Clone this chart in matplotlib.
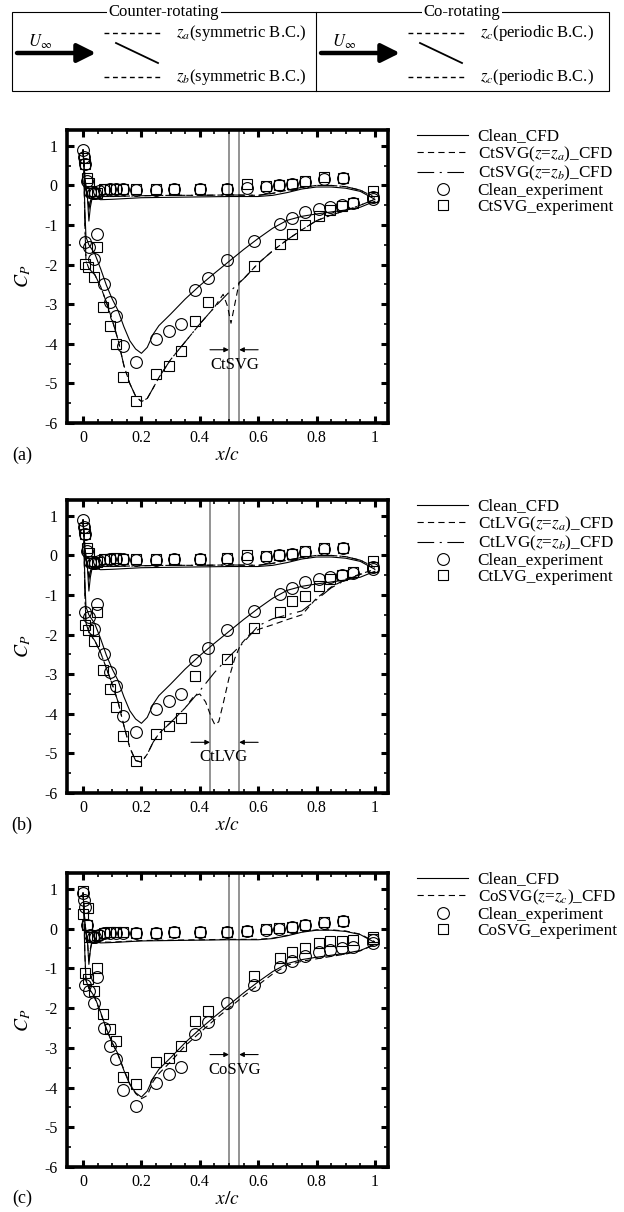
import matplotlib
matplotlib.use('Agg')
import matplotlib.pyplot as plt
from matplotlib.patches import Rectangle, FancyArrowPatch

plt.rcParams['font.family'] = ['Liberation Serif', 'DejaVu Serif']
plt.rcParams['mathtext.fontset'] = 'stix'
plt.rcParams['axes.unicode_minus'] = False
plt.rcParams['lines.scale_dashes'] = False

W, H = 624, 1212

# ---- axis ticks ----
XTICKS = [0, 0.2, 0.4, 0.6, 0.8, 1.0]
XTICK_LABELS = ['0', '0.2', '0.4', '0.6', '0.8', '1']
YTICKS = [1, 0, -1, -2, -3, -4, -5, -6]

# ---- CFD, clean airfoil ----
CLEAN_SS_X = [0, 0.003, 0.006, 0.01, 0.02, 0.04, 0.06, 0.08, 0.1, 0.12, 0.14, 0.16, 0.18, 0.2,
              0.22, 0.24, 0.26, 0.3, 0.35, 0.4, 0.45, 0.5, 0.55, 0.6, 0.65, 0.7, 0.75, 0.8,
              0.85, 0.9, 0.95, 1.0]
CLEAN_SS_Y = [0.9, 0.5, -0.6, -1.3, -1.5, -1.72, -2.1, -2.52, -2.87, -3.16, -3.57, -3.92, -4.13, -4.24,
              -4.09, -3.76, -3.54, -3.25, -2.87, -2.53, -2.22, -1.92, -1.62, -1.34, -1.08, -0.88,
              -0.78, -0.72, -0.67, -0.62, -0.55, -0.4]
CLEAN_PS_X = [0, 0.005, 0.01, 0.015, 0.02, 0.025, 0.03, 0.04, 0.06, 0.1, 0.15, 0.2, 0.3, 0.4,
              0.5, 0.6, 0.65, 0.7, 0.75, 0.8, 0.85, 0.9, 0.95, 1.0]
CLEAN_PS_Y = [0.9, 0.3, -0.1, -0.3, -0.9, -0.55, -0.36, -0.32, -0.36, -0.35, -0.33, -0.31, -0.3, -0.29,
              -0.28, -0.28, -0.25, -0.18, -0.09, -0.04, -0.04, -0.07, -0.15, -0.35]

# ---- CFD, CtSVG ----
CTSVG_B_SS_X = [0, 0.003, 0.006, 0.01, 0.02, 0.04, 0.06, 0.08, 0.1, 0.12, 0.14, 0.16, 0.18, 0.2,
                0.22, 0.24, 0.26, 0.3, 0.35, 0.4, 0.45, 0.5, 0.55, 0.6, 0.65, 0.7, 0.75, 0.8,
                0.85, 0.9, 0.95, 1.0]
CTSVG_B_SS_Y = [0.9, 0.4, -0.9, -1.9, -2.1, -2.25, -2.55, -2.95, -3.4, -3.9, -4.55, -5.0, -5.32, -5.46,
                -5.38, -5.12, -4.85, -4.4, -3.95, -3.5, -3.08, -2.7, -2.36, -1.97, -1.65, -1.37,
                -1.12, -0.89, -0.75, -0.63, -0.5, -0.35]
CTSVG_A_SS_X = [0, 0.003, 0.006, 0.01, 0.02, 0.04, 0.06, 0.08, 0.1, 0.12, 0.14, 0.16, 0.18, 0.2,
                0.22, 0.24, 0.26, 0.3, 0.35, 0.4, 0.45, 0.48, 0.495, 0.507, 0.52, 0.535, 0.55, 0.6,
                0.65, 0.7, 0.75, 0.8, 0.85, 0.9, 0.95, 1.0]
CTSVG_A_SS_Y = [0.9, 0.4, -0.9, -1.9, -2.1, -2.25, -2.55, -2.95, -3.4, -3.9, -4.55, -5.0, -5.32, -5.46,
                -5.38, -5.12, -4.85, -4.4, -3.95, -3.5, -3.08, -2.75, -3.05, -3.48, -3.0, -2.45, -2.36,
                -1.97, -1.65, -1.37, -1.12, -0.89, -0.75, -0.63, -0.5, -0.35]
CTSVG_PS_X = [0, 0.005, 0.01, 0.015, 0.02, 0.025, 0.03, 0.04, 0.06, 0.1, 0.15, 0.2, 0.3, 0.4,
              0.5, 0.6, 0.65, 0.7, 0.75, 0.8, 0.85, 0.9, 0.95, 1.0]
CTSVG_PS_Y = [0.9, 0.35, -0.05, -0.2, -0.6, -0.4, -0.3, -0.27, -0.28, -0.28, -0.27, -0.26, -0.25, -0.25,
              -0.24, -0.25, -0.2, -0.12, -0.05, 0.0, 0.0, -0.03, -0.12, -0.3]

# ---- CFD, CtLVG ----
CTLVG_B_SS_X = [0, 0.003, 0.006, 0.01, 0.02, 0.04, 0.06, 0.08, 0.1, 0.12, 0.14, 0.16, 0.18, 0.2,
                0.22, 0.24, 0.26, 0.3, 0.35, 0.4, 0.45, 0.5, 0.55, 0.6, 0.65, 0.7, 0.75, 0.8,
                0.85, 0.9, 0.95, 1.0]
CTLVG_B_SS_Y = [0.9, 0.4, -0.9, -1.7, -1.95, -2.15, -2.45, -2.85, -3.25, -3.7, -4.3, -4.85, -5.18, -5.22,
                -5.02, -4.72, -4.5, -4.22, -3.85, -3.42, -2.96, -2.56, -2.2, -1.78, -1.6, -1.5,
                -1.4, -1.12, -0.82, -0.62, -0.48, -0.35]
CTLVG_A_SS_X = [0, 0.003, 0.006, 0.01, 0.02, 0.04, 0.06, 0.08, 0.1, 0.12, 0.14, 0.16, 0.18, 0.2,
                0.22, 0.24, 0.26, 0.3, 0.35, 0.38, 0.4, 0.42, 0.44, 0.452, 0.465, 0.48, 0.5, 0.52,
                0.54, 0.57, 0.6, 0.65, 0.7, 0.75, 0.8, 0.85, 0.9, 0.95, 1.0]
CTLVG_A_SS_Y = [0.9, 0.4, -0.9, -1.7, -1.95, -2.15, -2.45, -2.85, -3.25, -3.7, -4.3, -4.85, -5.18, -5.22,
                -5.02, -4.72, -4.5, -4.22, -3.85, -3.55, -3.5, -3.7, -4.1, -4.28, -4.2, -3.75, -3.1,
                -2.6, -2.25, -2.0, -1.87, -1.75, -1.62, -1.5, -1.08, -0.8, -0.6, -0.47, -0.35]

# ---- CFD, CoSVG ----
COSVG_SS_X = [0, 0.003, 0.006, 0.01, 0.02, 0.04, 0.06, 0.08, 0.1, 0.12, 0.14, 0.16, 0.18, 0.2,
              0.22, 0.24, 0.26, 0.3, 0.35, 0.4, 0.45, 0.5, 0.55, 0.6, 0.65, 0.7, 0.75, 0.8,
              0.85, 0.9, 0.95, 1.0]
COSVG_SS_Y = [0.9, 0.5, -0.6, -1.3, -1.5, -1.75, -2.12, -2.53, -2.88, -3.18, -3.55, -3.9, -4.15, -4.28,
              -4.2, -3.85, -3.65, -3.35, -2.95, -2.62, -2.3, -2.0, -1.7, -1.42, -1.14, -0.92,
              -0.82, -0.76, -0.7, -0.64, -0.56, -0.4]
COSVG_PS_X = [0, 0.005, 0.01, 0.015, 0.02, 0.025, 0.03, 0.04, 0.06, 0.1, 0.15, 0.2, 0.3, 0.4,
              0.5, 0.6, 0.65, 0.7, 0.75, 0.8, 0.85, 0.9, 0.95, 1.0]
COSVG_PS_Y = [0.9, 0.3, -0.1, -0.28, -0.85, -0.5, -0.34, -0.3, -0.34, -0.34, -0.32, -0.3, -0.29, -0.28,
              -0.27, -0.27, -0.24, -0.17, -0.08, -0.03, -0.03, -0.06, -0.14, -0.33]

# ---- experiment, clean airfoil (same taps in every panel) ----
EXP_CLEAN_SS_X = [0.0, 0.003, 0.008, 0.008, 0.02, 0.037, 0.048, 0.071, 0.091, 0.114, 0.137, 0.18, 0.251,
                  0.294, 0.337, 0.383, 0.427, 0.494, 0.585, 0.674, 0.717, 0.762, 0.808, 0.846, 0.887,
                  0.925, 0.993]
EXP_CLEAN_SS_Y = [0.9, 0.72, 0.55, -1.43, -1.56, -1.86, -1.22, -2.49, -2.95, -3.29, -4.05, -4.47, -3.88,
                  -3.67, -3.49, -2.64, -2.35, -1.88, -1.41, -0.97, -0.82, -0.68, -0.59, -0.55, -0.5,
                  -0.45, -0.35]
EXP_CLEAN_PS_X = [0.015, 0.025, 0.033, 0.042, 0.055, 0.071, 0.091, 0.114, 0.137, 0.18, 0.251, 0.31, 0.4,
                  0.494, 0.562, 0.627, 0.672, 0.717, 0.762, 0.825, 0.89, 0.993]
EXP_CLEAN_PS_Y = [0.1, -0.17, -0.2, -0.2, -0.15, -0.11, -0.1, -0.1, -0.1, -0.11, -0.11, -0.09, -0.09,
                  -0.09, -0.06, -0.03, 0.0, 0.03, 0.09, 0.15, 0.18, -0.28]

# ---- experiment, vortex generators ----
EXP_CTSVG_SS_X = [0.002, 0.006, 0.008, 0.016, 0.037, 0.048, 0.069, 0.091, 0.114, 0.137, 0.18, 0.251,
                  0.294, 0.337, 0.383, 0.427, 0.585, 0.674, 0.717, 0.762, 0.808, 0.846, 0.887, 0.925,
                  0.993]
EXP_CTSVG_SS_Y = [0.7, 0.55, -1.98, -2.07, -2.32, -1.56, -3.08, -3.54, -4.0, -4.85, -5.44, -4.77, -4.56,
                  -4.19, -3.43, -2.95, -2.03, -1.48, -1.22, -1.01, -0.76, -0.62, -0.52, -0.45, -0.3]
EXP_CTSVG_PS_X = [0.015, 0.02, 0.028, 0.037, 0.048, 0.071, 0.091, 0.114, 0.137, 0.18, 0.251, 0.31, 0.4,
                  0.494, 0.562, 0.627, 0.672, 0.717, 0.762, 0.825, 0.89, 0.993]
EXP_CTSVG_PS_Y = [0.18, 0.05, -0.15, -0.2, -0.18, -0.1, -0.08, -0.08, -0.08, -0.1, -0.1, -0.08, -0.08,
                  -0.08, 0.03, -0.02, 0.0, 0.04, 0.1, 0.21, 0.2, -0.13]

EXP_CTLVG_SS_X = [0.002, 0.006, 0.008, 0.016, 0.037, 0.048, 0.069, 0.091, 0.114, 0.137, 0.18, 0.251,
                  0.294, 0.337, 0.383, 0.494, 0.585, 0.674, 0.717, 0.762, 0.808, 0.846, 0.887, 0.925,
                  0.993]
EXP_CTLVG_SS_Y = [0.7, 0.55, -1.75, -1.88, -2.16, -1.42, -2.9, -3.38, -3.83, -4.55, -5.19, -4.5, -4.3,
                  -4.1, -3.04, -2.62, -1.84, -1.42, -1.14, -1.02, -0.78, -0.6, -0.5, -0.42, -0.3]
EXP_CTLVG_PS_X = [0.015, 0.02, 0.028, 0.037, 0.048, 0.071, 0.091, 0.114, 0.137, 0.18, 0.251, 0.31, 0.4,
                  0.494, 0.562, 0.627, 0.672, 0.717, 0.762, 0.825, 0.89, 0.993]
EXP_CTLVG_PS_Y = [0.2, 0.06, -0.15, -0.2, -0.17, -0.09, -0.08, -0.07, -0.08, -0.1, -0.09, -0.08, -0.08,
                  -0.07, 0.02, -0.02, 0.01, 0.04, 0.1, 0.2, 0.2, -0.15]

EXP_COSVG_SS_X = [0.0, 0.0, 0.016, 0.008, 0.016, 0.037, 0.048, 0.069, 0.091, 0.114, 0.137, 0.18, 0.251,
                  0.294, 0.337, 0.383, 0.427, 0.585, 0.674, 0.717, 0.762, 0.808, 0.846, 0.887, 0.925,
                  0.993]
EXP_COSVG_SS_Y = [0.94, 0.36, 0.52, -1.12, -1.27, -1.56, -0.98, -2.14, -2.52, -2.83, -3.73, -3.92, -3.35,
                  -3.25, -2.96, -2.33, -2.08, -1.18, -0.73, -0.58, -0.48, -0.35, -0.32, -0.3, -0.28,
                  -0.22]
EXP_COSVG_PS_X = [0.015, 0.022, 0.028, 0.037, 0.048, 0.071, 0.091, 0.114, 0.137, 0.18, 0.251, 0.31, 0.4,
                  0.494, 0.562, 0.627, 0.672, 0.717, 0.762, 0.825, 0.89, 0.993]
EXP_COSVG_PS_Y = [0.1, -0.2, -0.22, -0.2, -0.17, -0.1, -0.09, -0.09, -0.09, -0.1, -0.1, -0.08, -0.08,
                  -0.08, -0.05, -0.02, 0.01, 0.04, 0.1, 0.17, 0.19, -0.25]

# ---- vortex generator positions (x/c) ----
VG_CTSVG = [0.5, 0.535]
VG_CTLVG = [0.435, 0.535]
VG_COSVG = [0.5, 0.535]

SOLID = '-'
DASHED = (0, (4.5, 3))
DASHDOT = (0, (12, 4, 1.5, 4))


def axes_rect(left, top, right, bottom):
    return [left / W, 1 - bottom / H, (right - left) / W, (bottom - top) / H]


def style_axes(ax):
    ax.set_xlim(-0.055, 1.045)
    ax.set_ylim(-6, 1.4)
    ax.set_xticks(XTICKS)
    ax.set_xticklabels(XTICK_LABELS)
    ax.set_yticks(YTICKS)
    ax.set_xticks([i * 0.05 for i in range(21)], minor=True)
    ax.set_yticks([-5.5 + i for i in range(7)], minor=True)
    ax.tick_params(which='both', direction='in', top=True, right=True, labelsize=11.5)
    ax.tick_params(which='major', length=5, width=2.2)
    ax.tick_params(which='minor', length=3, width=1.2)
    ax.tick_params(axis='x', pad=5)
    ax.tick_params(axis='y', pad=7)
    for s in ax.spines.values():
        s.set_linewidth(2.6)
    ax.set_ylabel('$C_P$', fontsize=14)
    ax.yaxis.set_label_coords(-0.105, 0.5)
    ax.set_xlabel('$x/c$', fontsize=14)
    ax.xaxis.label.set_va('center')
    ax.xaxis.set_label_coords(0.5, -0.11)


def draw_vg(ax, xs, y, name, name_x, arrow_len=0.065):
    for x in xs:
        ax.axvline(x, color='#8a8a8a', lw=1.3, zorder=1)
    props = dict(arrowstyle='-|>', color='k', lw=0.8, mutation_scale=7, shrinkA=0, shrinkB=0)
    ax.annotate('', xy=(xs[0], y), xytext=(xs[0] - arrow_len, y), arrowprops=props)
    ax.annotate('', xy=(xs[1], y), xytext=(xs[1] + arrow_len, y), arrowprops=props)
    ax.text(name_x, y - 0.38, name, ha='center', va='center', fontsize=12)


def draw_exp(ax, ss_x, ss_y, ps_x, ps_y, marker, ms, label):
    kw = dict(ls='none', marker=marker, ms=ms, mfc='none', mec='k', mew=0.8, zorder=4)
    ax.plot(ss_x, ss_y, label=label, **kw)
    ax.plot(ps_x, ps_y, **kw)


def draw_cfd(ax, ss_x, ss_y, ps_x, ps_y, ls, label):
    ax.plot(ss_x, ss_y, color='k', lw=0.8, ls=ls, label=label, zorder=3)
    ax.plot(ps_x, ps_y, color='k', lw=0.8, ls=ls, zorder=3)


def add_legend(ax):
    ax.legend(loc='upper left', bbox_to_anchor=(1.09, 1.005), frameon=False, borderpad=0,
              borderaxespad=0, handlelength=3.0, handletextpad=0.55, labelspacing=0.0,
              handleheight=0.6, fontsize=12.3, numpoints=1)


fig = plt.figure(figsize=(W / 100, H / 100), dpi=100)

# ---- schematic box on top ----
canvas = fig.add_axes([0, 0, 1, 1], zorder=-1)
canvas.set_xlim(0, W)
canvas.set_ylim(H, 0)
canvas.axis('off')
canvas.add_patch(Rectangle((12, 12), 597, 79, fill=False, ec='k', lw=0.8))
canvas.plot([316, 316], [12, 91], color='k', lw=0.8)
for cx, title in [(164, 'Counter-rotating'), (462, 'Co-rotating')]:
    canvas.text(cx, 12, title, ha='center', va='center', fontsize=12,
                bbox=dict(fc='white', ec='none', pad=1.5))
halves = [(12, '$z_a$(symmetric B.C.)', '$z_b$(symmetric B.C.)'),
          (316, '$z_c$(periodic B.C.)', '$z_c$(periodic B.C.)')]
for x0, top_txt, bot_txt in halves:
    canvas.add_patch(FancyArrowPatch((x0 + 5, 53), (x0 + 84, 53), arrowstyle='-|>',
                                     mutation_scale=28, lw=3.2, color='k',
                                     shrinkA=0, shrinkB=0))
    canvas.text(x0 + 28, 42, r'$U_\infty$', ha='center', va='center', fontsize=12)
    canvas.plot([x0 + 92, x0 + 148], [33, 33], color='k', lw=1, ls=(0, (3.5, 2.6)))
    canvas.plot([x0 + 92, x0 + 148], [77, 77], color='k', lw=1, ls=(0, (3.5, 2.6)))
    canvas.plot([x0 + 104, x0 + 146], [43, 63], color='k', lw=1.3)
    canvas.text(x0 + 164, 33, top_txt, ha='left', va='center', fontsize=12)
    canvas.text(x0 + 164, 77, bot_txt, ha='left', va='center', fontsize=12)

# ---- panel (a): counter-rotating SVG ----
ax_a = fig.add_axes(axes_rect(67, 130, 388, 423))
draw_cfd(ax_a, CLEAN_SS_X, CLEAN_SS_Y, CLEAN_PS_X, CLEAN_PS_Y, SOLID, 'Clean_CFD')
draw_cfd(ax_a, CTSVG_A_SS_X, CTSVG_A_SS_Y, CTSVG_PS_X, CTSVG_PS_Y, DASHED, 'CtSVG($z$=$z_a$)_CFD')
draw_cfd(ax_a, CTSVG_B_SS_X, CTSVG_B_SS_Y, CTSVG_PS_X, CTSVG_PS_Y, DASHDOT, 'CtSVG($z$=$z_b$)_CFD')
draw_exp(ax_a, EXP_CLEAN_SS_X, EXP_CLEAN_SS_Y, EXP_CLEAN_PS_X, EXP_CLEAN_PS_Y, 'o', 8.5, 'Clean_experiment')
draw_exp(ax_a, EXP_CTSVG_SS_X, EXP_CTSVG_SS_Y, EXP_CTSVG_PS_X, EXP_CTSVG_PS_Y, 's', 6.5, 'CtSVG_experiment')
draw_vg(ax_a, VG_CTSVG, -4.15, 'CtSVG', 0.52)
style_axes(ax_a)
add_legend(ax_a)

# ---- panel (b): counter-rotating LVG ----
ax_b = fig.add_axes(axes_rect(67, 500, 388, 793))
draw_cfd(ax_b, CLEAN_SS_X, CLEAN_SS_Y, CLEAN_PS_X, CLEAN_PS_Y, SOLID, 'Clean_CFD')
draw_cfd(ax_b, CTLVG_A_SS_X, CTLVG_A_SS_Y, CTSVG_PS_X, CTSVG_PS_Y, DASHED, 'CtLVG($z$=$z_a$)_CFD')
draw_cfd(ax_b, CTLVG_B_SS_X, CTLVG_B_SS_Y, CTSVG_PS_X, CTSVG_PS_Y, DASHDOT, 'CtLVG($z$=$z_b$)_CFD')
draw_exp(ax_b, EXP_CLEAN_SS_X, EXP_CLEAN_SS_Y, EXP_CLEAN_PS_X, EXP_CLEAN_PS_Y, 'o', 8.5, 'Clean_experiment')
draw_exp(ax_b, EXP_CTLVG_SS_X, EXP_CTLVG_SS_Y, EXP_CTLVG_PS_X, EXP_CTLVG_PS_Y, 's', 6.5, 'CtLVG_experiment')
draw_vg(ax_b, VG_CTLVG, -4.72, 'CtLVG', 0.48)
style_axes(ax_b)
add_legend(ax_b)

# ---- panel (c): co-rotating SVG ----
ax_c = fig.add_axes(axes_rect(67, 873, 388, 1167))
draw_cfd(ax_c, CLEAN_SS_X, CLEAN_SS_Y, CLEAN_PS_X, CLEAN_PS_Y, SOLID, 'Clean_CFD')
draw_cfd(ax_c, COSVG_SS_X, COSVG_SS_Y, COSVG_PS_X, COSVG_PS_Y, DASHED, 'CoSVG($z$=$z_c$)_CFD')
draw_exp(ax_c, EXP_CLEAN_SS_X, EXP_CLEAN_SS_Y, EXP_CLEAN_PS_X, EXP_CLEAN_PS_Y, 'o', 8.5, 'Clean_experiment')
draw_exp(ax_c, EXP_COSVG_SS_X, EXP_COSVG_SS_Y, EXP_COSVG_PS_X, EXP_COSVG_PS_Y, 's', 6.5, 'CoSVG_experiment')
draw_vg(ax_c, VG_COSVG, -3.17, 'CoSVG', 0.52)
style_axes(ax_c)
add_legend(ax_c)

# panel tags
for tag, y in [('(a)', 455), ('(b)', 825), ('(c)', 1198)]:
    fig.text(22 / W, 1 - y / H, tag, ha='center', va='center', fontsize=13)

fig.savefig('out.png', dpi=100)
